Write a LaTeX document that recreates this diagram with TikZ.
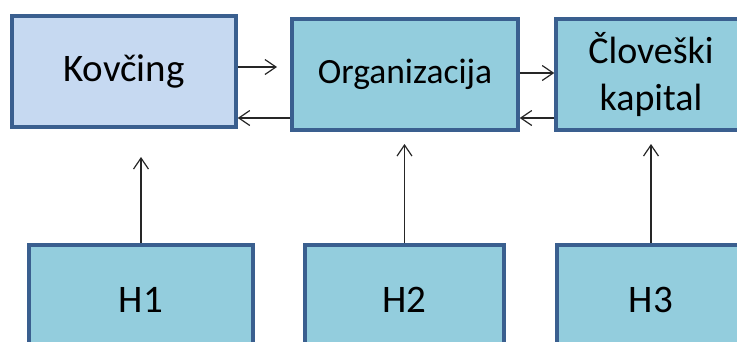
\documentclass[tikz,border=0pt]{standalone}
\usepackage{fontspec}
\setmainfont{Carlito}
\usetikzlibrary{arrows.meta}
\definecolor{boxline}{HTML}{3A5F8F}
\definecolor{lightfill}{HTML}{C6D9F1}
\definecolor{tealfill}{HTML}{93CDDD}
\tikzset{
  box/.style={draw=boxline, line width=3.5pt, rectangle, inner sep=0pt, align=center, text=black},
  arr/.style={-{Straight Barb[length=11pt,width=15pt,line width=1.2pt]}, line width=1.2pt, black!85}
}
\begin{document}
\begin{tikzpicture}[x=1pt,y=-1pt]
\useasboundingbox (0,0) rectangle (737,341);
\clip (0,0) rectangle (737,341);
\node[box, fill=lightfill, minimum width=224pt, minimum height=111pt, font=\fontsize{39}{47}\selectfont] (kov) at (124,71.5) {Kovčing};
\node[box, fill=tealfill, minimum width=226pt, minimum height=111pt, font=\fontsize{35.5}{43}\selectfont] (org) at (405,74.5) {Organizacija};
\node[box, fill=tealfill, minimum width=190pt, minimum height=111pt, font=\fontsize{38}{47}\selectfont] (clo) at (651,74.5) {Človeški\\kapital};
\node[box, fill=tealfill, minimum width=224pt, minimum height=110pt, font=\fontsize{39}{47}\selectfont] (h1) at (141,300) {H1};
\node[box, fill=tealfill, minimum width=199pt, minimum height=110pt, font=\fontsize{39}{47}\selectfont] (h2) at (404.5,300) {H2};
\node[box, fill=tealfill, minimum width=188pt, minimum height=110pt, font=\fontsize{39}{47}\selectfont] (h3) at (651,300) {H3};
\coordinate (a1) at (277,67);
\coordinate (a2) at (0,73);
\coordinate (a3) at (0,118);
\coordinate (t1) at (141,157);
\coordinate (t2) at (404.5,144);
\coordinate (t3) at (651,144);
\draw[arr] (kov.east |- a1) -- (a1);
\draw[arr] (org.east |- a2) -- (clo.west |- a2);
\draw[arr] (org.west |- a3) -- (kov.east |- a3);
\draw[arr] (clo.west |- a3) -- (org.east |- a3);
\draw[arr] (h1.north) -- (t1);
\draw[arr] (h2.north) -- (t2);
\draw[arr] (h3.north) -- (t3);
\end{tikzpicture}
\end{document}
